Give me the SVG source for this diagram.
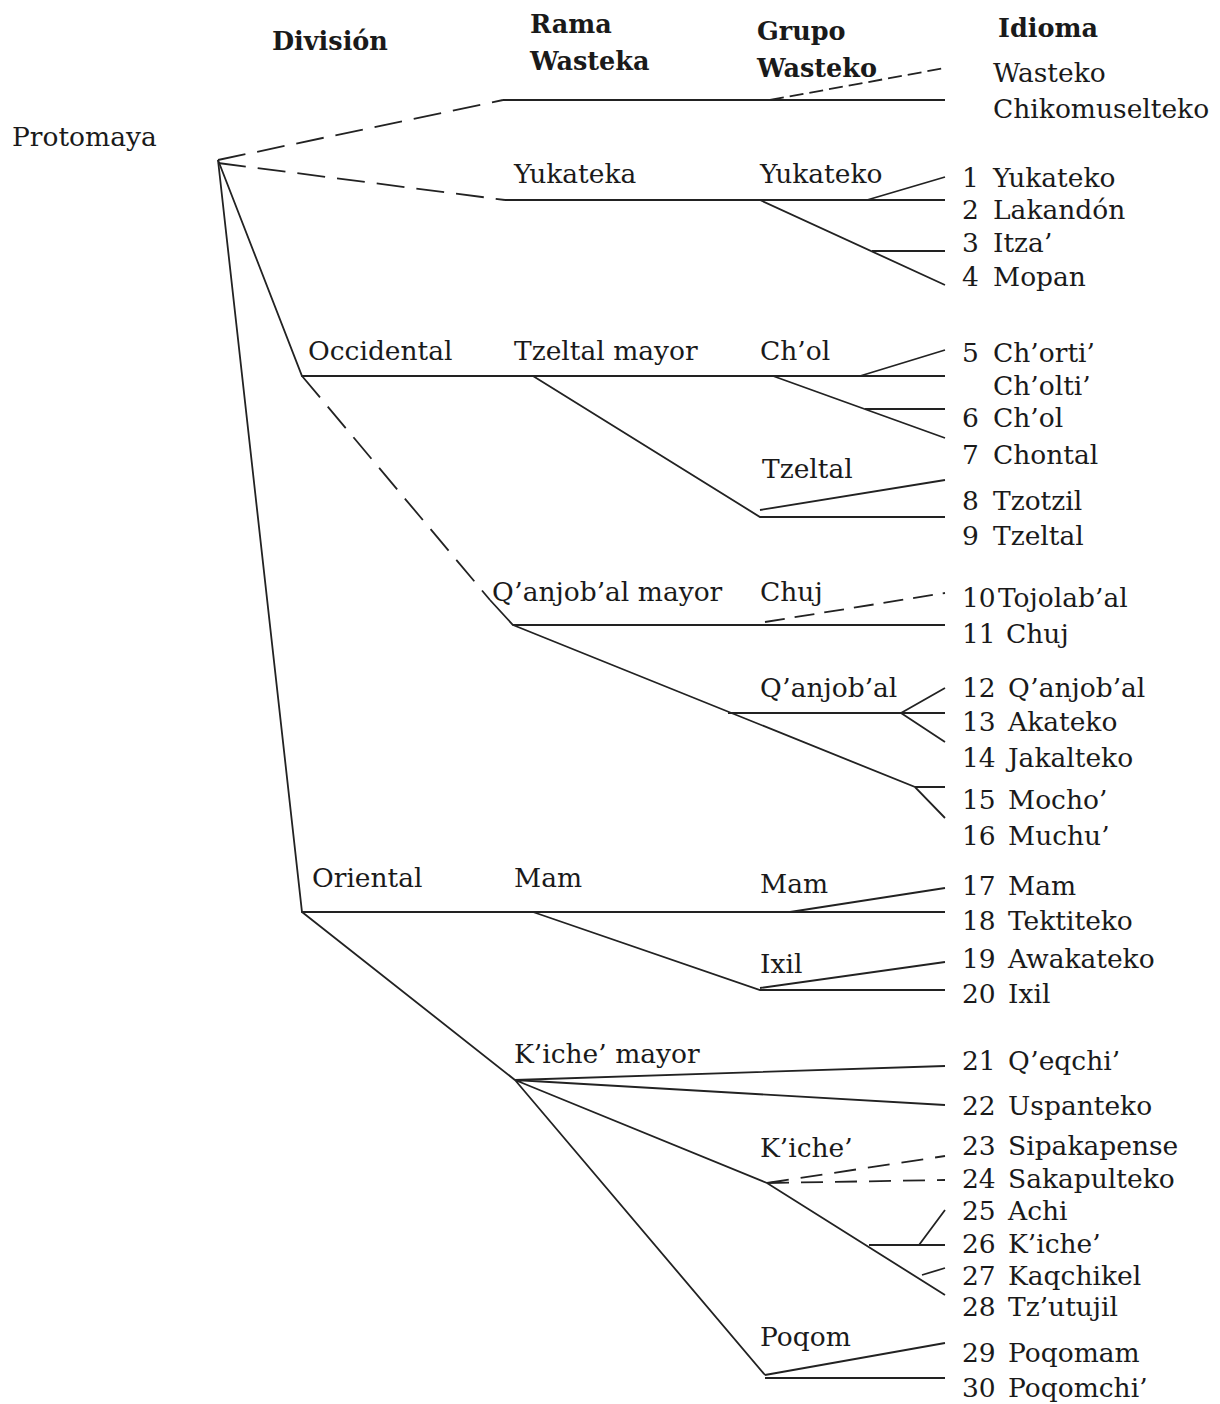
<svg xmlns="http://www.w3.org/2000/svg" width="1220" height="1404" viewBox="0 0 1220 1404">
<style>
text{font-family:"DejaVu Serif","Liberation Serif",serif;font-size:26.5px;fill:#1a1a1a}
.h{font-weight:bold;font-size:25.5px}
.l{stroke:#222;stroke-width:1.8;fill:none}
.d{stroke-dasharray:28 12}
</style>
<rect width="1220" height="1404" fill="#fff"/>
<g id="connectors">
<path class="l d" d="M218 160 L503 100"/>
<path class="l" d="M503 100 H945"/>
<path class="l d" d="M770 100 L945 68" style="stroke-dasharray:14 6"/>
<path class="l d" d="M218 163 L505 200"/>
<path class="l" d="M505 200 H945 M867 200 L945 177 M760 200 L945 285 M872 251 H945"/>
<path class="l" d="M218 160 L302 376 H945 M860 376 L945 350 M773 376 L945 438 M865 409 H945"/>
<path class="l" d="M533 376 L760 517 H945 M760 510 L945 480"/>
<path class="l d" d="M302 376 L490 600"/>
<path class="l" d="M490 600 L513 625 H945 M513 625 L915 787 L945 818 M915 787 H945 M728 713 H945 M901 713 L945 688 M901 713 L945 742"/>
<path class="l d" d="M765 622 L945 593" style="stroke-dasharray:20 10"/>
<path class="l" d="M218 160 L302 912 H945 M790 912 L945 888 M533 912 L760 990 H945 M760 988 L945 962"/>
<path class="l" d="M302 912 L515 1080 L945 1066 M515 1080 L945 1105 M515 1080 L767 1183 L945 1295 M515 1080 L765 1375 M869 1245 H945 M919 1245 L945 1210 M922 1275 L945 1268 M765 1378 H945 M765 1375 L945 1343"/>
<path class="l d" d="M767 1183 L945 1156 M767 1183 L945 1180" style="stroke-dasharray:22 12"/>
</g>
<g id="headers">
<text class="h" x="272" y="50">División</text>
<text class="h" x="530" y="33">Rama</text>
<text class="h" x="530" y="70">Wasteka</text>
<text class="h" x="757" y="40">Grupo</text>
<text class="h" x="757" y="77">Wasteko</text>
<text class="h" x="998" y="37">Idioma</text>
</g>
<g id="protomaya"><text x="12" y="146">Protomaya</text></g>
<g id="wasteka">
<text x="993" y="82">Wasteko</text>
<text x="993" y="118">Chikomuselteko</text>
</g>
<g id="yukateka">
<text x="514" y="183">Yukateka</text>
<text x="760" y="183">Yukateko</text>
<text x="962" y="187">1</text><text x="993" y="187">Yukateko</text>
<text x="962" y="219">2</text><text x="993" y="219">Lakandón</text>
<text x="962" y="252">3</text><text x="993" y="252">Itza’</text>
<text x="962" y="286">4</text><text x="993" y="286">Mopan</text>
</g>
<g id="occidental">
<text x="308" y="360">Occidental</text>
<text x="514" y="360">Tzeltal mayor</text>
<text x="760" y="360">Ch’ol</text>
<text x="962" y="362">5</text><text x="993" y="362">Ch’orti’</text>
<text x="993" y="395">Ch’olti’</text>
<text x="962" y="427">6</text><text x="993" y="427">Ch’ol</text>
<text x="962" y="464">7</text><text x="993" y="464">Chontal</text>
<text x="762" y="478">Tzeltal</text>
<text x="962" y="510">8</text><text x="993" y="510">Tzotzil</text>
<text x="962" y="545">9</text><text x="993" y="545">Tzeltal</text>
</g>
<g id="qanjobal">
<text x="492" y="601">Q’anjob’al mayor</text>
<text x="760" y="601">Chuj</text>
<text x="962" y="607">10</text><text x="998" y="607">Tojolab’al</text>
<text x="962" y="643">11</text><text x="1006" y="643">Chuj</text>
<text x="760" y="697">Q’anjob’al</text>
<text x="962" y="697">12</text><text x="1008" y="697">Q’anjob’al</text>
<text x="962" y="731">13</text><text x="1008" y="731">Akateko</text>
<text x="962" y="767">14</text><text x="1008" y="767">Jakalteko</text>
<text x="962" y="809">15</text><text x="1008" y="809">Mocho’</text>
<text x="962" y="845">16</text><text x="1008" y="845">Muchu’</text>
</g>
<g id="oriental">
<text x="312" y="887">Oriental</text>
<text x="514" y="887">Mam</text>
<text x="760" y="893">Mam</text>
<text x="962" y="895">17</text><text x="1008" y="895">Mam</text>
<text x="962" y="930">18</text><text x="1008" y="930">Tektiteko</text>
<text x="760" y="973">Ixil</text>
<text x="962" y="968">19</text><text x="1008" y="968">Awakateko</text>
<text x="962" y="1003">20</text><text x="1008" y="1003">Ixil</text>
</g>
<g id="kiche">
<text x="514" y="1063">K’iche’ mayor</text>
<text x="962" y="1070">21</text><text x="1008" y="1070">Q’eqchi’</text>
<text x="962" y="1115">22</text><text x="1008" y="1115">Uspanteko</text>
<text x="760" y="1157">K’iche’</text>
<text x="962" y="1155">23</text><text x="1008" y="1155">Sipakapense</text>
<text x="962" y="1188">24</text><text x="1008" y="1188">Sakapulteko</text>
<text x="962" y="1220">25</text><text x="1008" y="1220">Achi</text>
<text x="962" y="1253">26</text><text x="1008" y="1253">K’iche’</text>
<text x="962" y="1285">27</text><text x="1008" y="1285">Kaqchikel</text>
<text x="962" y="1316">28</text><text x="1008" y="1316">Tz’utujil</text>
<text x="760" y="1346">Poqom</text>
<text x="962" y="1362">29</text><text x="1008" y="1362">Poqomam</text>
<text x="962" y="1397">30</text><text x="1008" y="1397">Poqomchi’</text>
</g>
</svg>
